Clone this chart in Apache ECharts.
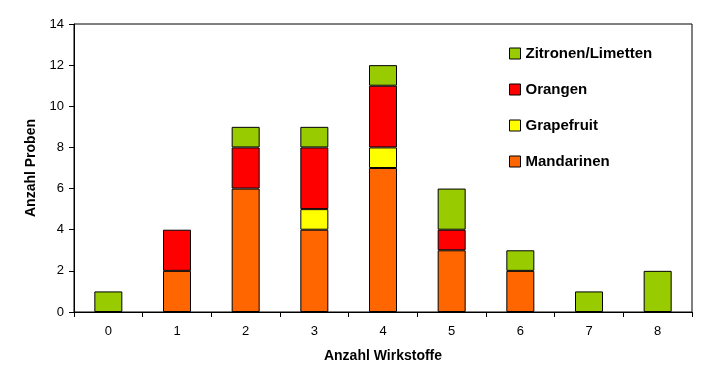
<!DOCTYPE html>
<html><head><meta charset="utf-8">
<script src="https://cdn.jsdelivr.net/npm/echarts@6/dist/echarts.min.js"></script>
<style>html,body{margin:0;padding:0;background:#fff}#c{width:719px;height:382px}</style>
</head><body><div id="c"></div>
<script>
const categories = ['0','1','2','3','4','5','6','7','8'];
const mandarinen = [0, 2, 6, 4, 7, 3, 2, 0, 0];
const grapefruit = [0, 0, 0, 1, 1, 0, 0, 0, 0];
const orangen    = [0, 2, 2, 3, 3, 1, 0, 0, 0];
const zitronen   = [1, 0, 1, 1, 1, 2, 1, 1, 2];
const legendOrder = ['Zitronen/Limetten', 'Orangen', 'Grapefruit', 'Mandarinen'];

const clean = a => a.map(v => v === 0 ? '-' : v);
const mk = (name, data, color) => ({
  name, type: 'bar', stack: 's', data: clean(data), barWidth: 28,
  itemStyle: { color, borderColor: '#000', borderWidth: 1 }
});
const chart = echarts.init(document.getElementById('c'));
chart.setOption({
  animation: false,
  grid: { left: 74, right: 27, top: 24, bottom: 70, show: true, borderColor: '#000', borderWidth: 1 },
  legend: {
    data: legendOrder, orient: 'vertical', left: 504, top: 41, icon: 'rect',
    itemWidth: 11, itemHeight: 11, itemGap: 21,
    textStyle: { fontFamily: 'Arial, Liberation Sans', fontSize: 15, fontWeight: 'bold', color: '#000' },
    itemStyle: { borderColor: '#000', borderWidth: 1 }
  },
  xAxis: {
    type: 'category', data: categories,
    name: 'Anzahl Wirkstoffe', nameLocation: 'middle', nameGap: 37,
    nameTextStyle: { fontFamily: 'Arial, Liberation Sans', fontSize: 14, fontWeight: 'bold', color: '#000' },
    axisLine: { lineStyle: { color: '#000' } },
    axisTick: { show: true, length: 5, lineStyle: { color: '#000' }, alignWithLabel: false },
    axisLabel: { fontFamily: 'Arial, Liberation Sans', fontSize: 13, color: '#000', margin: 13 }
  },
  yAxis: {
    type: 'value', min: 0, max: 14, interval: 2,
    name: 'Anzahl Proben', nameLocation: 'middle', nameGap: 36,
    nameTextStyle: { fontFamily: 'Arial, Liberation Sans', fontSize: 14, fontWeight: 'bold', color: '#000' },
    axisLine: { show: true, lineStyle: { color: '#000' } },
    axisTick: { show: true, length: 5, lineStyle: { color: '#000' } },
    splitLine: { show: false },
    axisLabel: { fontFamily: 'Arial, Liberation Sans', fontSize: 13, color: '#000', margin: 10 }
  },
  series: [
    mk('Mandarinen', mandarinen, '#FF6600'),
    mk('Grapefruit', grapefruit, '#FFFF00'),
    mk('Orangen', orangen, '#FF0000'),
    mk('Zitronen/Limetten', zitronen, '#99CC00')
  ]
});
</script></body></html>
